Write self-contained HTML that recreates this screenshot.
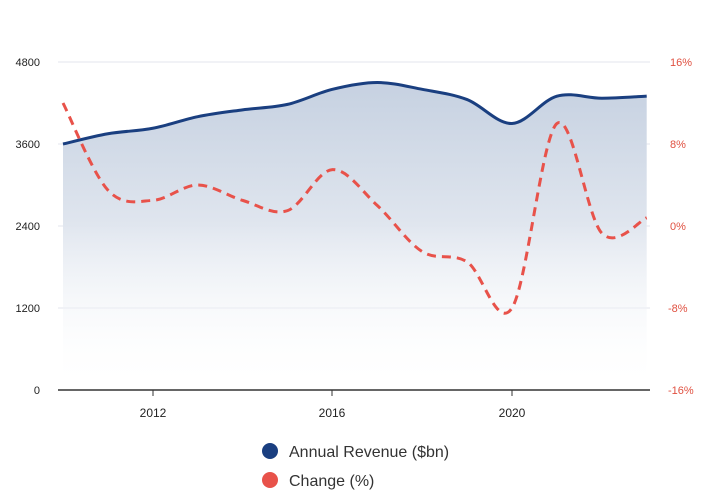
<!DOCTYPE html>
<html><head><meta charset="utf-8"><style>
body{margin:0;background:#fff;width:720px;height:497px;overflow:hidden;font-family:"Liberation Sans",sans-serif}
</style></head><body>
<svg id="s" width="720" height="497" xmlns="http://www.w3.org/2000/svg">
<defs><linearGradient id="g" x1="0" y1="0" x2="0" y2="1">
<stop offset="0" stop-color="#c6d1e1"/><stop offset="0.45" stop-color="#dfe5ee"/><stop offset="1" stop-color="#ffffff" stop-opacity="0"/></linearGradient></defs>
<g stroke="#e3e6ee" stroke-width="1">
<line x1="58" x2="650" y1="62" y2="62"/><line x1="58" x2="650" y1="144" y2="144"/>
<line x1="58" x2="650" y1="226" y2="226"/><line x1="58" x2="650" y1="308" y2="308"/></g>
<path id="area" fill="url(#g)"/>
<path id="rev" fill="none" stroke="#1a3f80" stroke-width="3"/>
<path id="chg" fill="none" stroke="#e8524a" stroke-width="3" stroke-dasharray="9,6"/>
<line x1="58" x2="650" y1="390" y2="390" stroke="#333" stroke-width="1.5"/>
<g stroke="#333"><line x1="153" x2="153" y1="390" y2="396"/><line x1="332" x2="332" y1="390" y2="396"/><line x1="512" x2="512" y1="390" y2="396"/></g>
<g font-size="11" fill="#222" text-anchor="end">
<text x="40" y="66">4800</text><text x="40" y="148">3600</text><text x="40" y="230">2400</text><text x="40" y="312">1200</text><text x="40" y="394">0</text></g>
<g font-size="11" fill="#e05040" text-anchor="start">
<text x="670" y="66">16%</text><text x="670" y="148">8%</text><text x="670" y="230">0%</text><text x="668" y="312">-8%</text><text x="668" y="394">-16%</text></g>
<g font-size="12" fill="#222" text-anchor="middle">
<text x="153" y="417">2012</text><text x="332" y="417">2016</text><text x="512" y="417">2020</text></g>
<circle cx="270" cy="451" r="8" fill="#1a3f80"/><text x="289" y="457" font-size="16" fill="#333">Annual Revenue ($bn)</text>
<circle cx="270" cy="480" r="8" fill="#e8524a"/><text x="289" y="486" font-size="16" fill="#333">Change (%)</text>
</svg>
<script>
var x0=63,dx=44.9;
var rev=[3600,3750,3830,4000,4100,4180,4400,4500,4400,4250,3900,4300,4270,4300];
var chg=[12,3.5,2.5,4,2.5,1.5,5.5,2,-2.5,-3.5,-8,10,-0.7,0.8];
function pts(a,f){return a.map(function(v,i){return [x0+i*dx,f(v)]});}
function path(p){var d="M"+p[0][0]+","+p[0][1];for(var i=0;i<p.length-1;i++){var p0=p[Math.max(i-1,0)],p1=p[i],p2=p[i+1],p3=p[Math.min(i+2,p.length-1)];
var c1=[p1[0]+(p2[0]-p0[0])/6,p1[1]+(p2[1]-p0[1])/6],c2=[p2[0]-(p3[0]-p1[0])/6,p2[1]-(p3[1]-p1[1])/6];
d+=" C"+c1[0]+","+c1[1]+" "+c2[0]+","+c2[1]+" "+p2[0]+","+p2[1];}return d;}
var r=pts(rev,function(v){return 390-v*82/1200;}),c=pts(chg,function(v){return 226-v*82/8;});
var rd=path(r);
document.getElementById('rev').setAttribute('d',rd);
document.getElementById('area').setAttribute('d',rd+" L"+r[r.length-1][0]+",390 L"+r[0][0]+",390 Z");
document.getElementById('chg').setAttribute('d',path(c));
</script>
</body></html>
